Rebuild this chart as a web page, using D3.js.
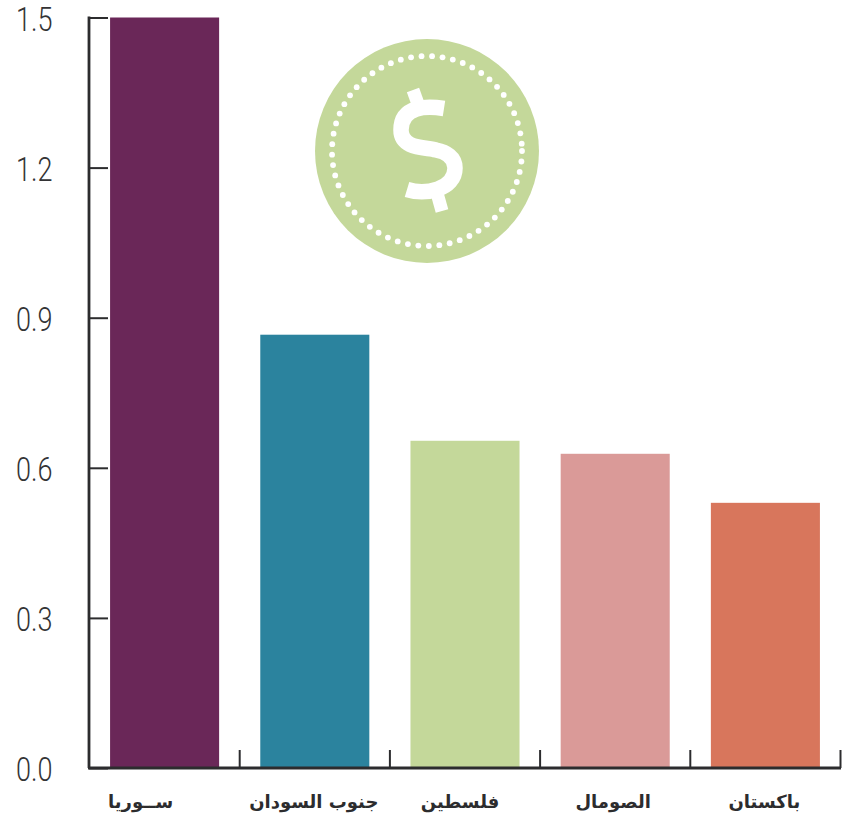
<!DOCTYPE html>
<html><head><meta charset="utf-8">
<script src="https://cdn.jsdelivr.net/npm/d3@7"></script>
<style>html,body{margin:0;padding:0;background:#fff}svg{display:block}</style>
</head><body><svg id="c" width="843" height="819"></svg>
<script>
const categories = ["ســوريا","جنوب السودان","فلسطين","الصومال","باكستان"];
const values = [1.5,0.866,0.654,0.628,0.53];
const colors = ["#6a2758","#2b839e","#c4d89a","#da9a98","#d8765c"];
const yTicks = [0,0.3,0.6,0.9,1.2,1.5];
const labelNudge = [-24,-1,-5,-2,-1];

const svg = d3.select("#c");
const x = d3.scaleBand().domain(categories).range([89.5,840.5]).paddingInner(0.274).paddingOuter(0.137);
const y = d3.scaleLinear().domain([0,1.5]).range([768,17.5]);
const ink = "#2c2c2e";

svg.append("g").selectAll("rect").data(values).join("rect")
  .attr("x",(d,i)=>x(categories[i])).attr("width",x.bandwidth())
  .attr("y",d=>y(d)).attr("height",d=>y(0)-y(d)).attr("fill",(d,i)=>colors[i]);

// y axis
const yAxis = d3.axisRight(y).tickValues(yTicks).tickFormat(d3.format(".1f")).tickSize(19).tickPadding(0);
const gy = svg.append("g").attr("transform","translate(89,0)").call(yAxis);
gy.select(".domain").attr("d",`M0,${y(1.5)-1}V${y(0)}`).attr("stroke",ink).attr("stroke-width",2.8).attr("fill","none");
gy.selectAll(".tick line").attr("stroke",ink).attr("stroke-width",2);
gy.selectAll(".tick text").attr("x",0).attr("text-anchor","end").attr("dy","0.39em")
  .attr("transform","translate(-36.5,0) scale(0.82,1)")
  .attr("font-family","Roboto,'Liberation Sans',sans-serif").attr("font-weight",300).attr("font-size",33).attr("fill","#333335");

// x axis
const step = x.step();
const boundaries = categories.map((c,i)=>x(c)+x.bandwidth()+(step-x.bandwidth())/2);
const gx = svg.append("g");
gx.append("line").attr("x1",88).attr("x2",841).attr("y1",y(0)).attr("y2",y(0)).attr("stroke",ink).attr("stroke-width",2.8);
gx.selectAll("line.t").data(boundaries).join("line").attr("class","t")
  .attr("x1",d=>d).attr("x2",d=>d).attr("y1",750).attr("y2",y(0)).attr("stroke",ink).attr("stroke-width",2);
gx.selectAll("text").data(categories).join("text")
  .attr("x",(d,i)=>x(d)+x.bandwidth()/2+labelNudge[i]).attr("y",808)
  .attr("text-anchor","middle").attr("direction","rtl")
  .attr("font-family","'DejaVu Sans',sans-serif").attr("font-weight","bold").attr("font-size",18).attr("fill",ink)
  .text(d=>d);

// coin icon
const coin = svg.append("g").attr("transform","translate(427,151)");
coin.append("circle").attr("r",112).attr("fill","#c4d89a");
const dotAngles = d3.range(0,360,6.35);
coin.selectAll("circle.d").data(dotAngles).join("circle").attr("class","d")
  .attr("cx",a=>95*Math.cos(a*Math.PI/180)).attr("cy",a=>95*Math.sin(a*Math.PI/180))
  .attr("r",2.9).attr("fill","#fff");
const g$ = svg.append("g").attr("fill","none").attr("stroke","#fff");
g$.append("path").attr("stroke-width",15.5).attr("d","M444,108.5 C428,106 401,105 401,130 C401,150 428,147 436,150 C446,152 455,157 455,168 C455,190 425,195 407,189.5");
g$.append("path").attr("stroke-width",13).attr("d","M413,90 L418,104");
g$.append("path").attr("stroke-width",13).attr("d","M437,193 L442,211");
</script></body></html>
